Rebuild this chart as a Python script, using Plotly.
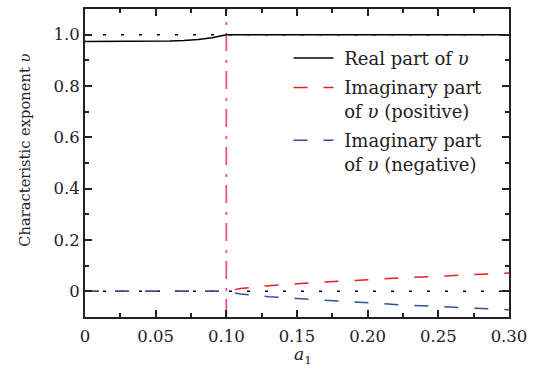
import plotly.graph_objects as go

# ---- data ----
x_real = [0.0, 0.02, 0.04, 0.05, 0.06, 0.07, 0.08, 0.09, 0.095, 0.1, 0.15, 0.2, 0.25, 0.3]
y_real = [0.973, 0.973, 0.973, 0.974, 0.975, 0.977, 0.981, 0.988, 0.993, 1.0, 1.0, 1.0, 1.0, 1.0]

x_imag = [0.0, 0.05, 0.1, 0.11, 0.13, 0.15, 0.175, 0.2, 0.225, 0.25, 0.275, 0.3]
y_imag_pos = [0.0, 0.0, 0.0, 0.011, 0.022, 0.030, 0.038, 0.046, 0.053, 0.059, 0.065, 0.071]
y_imag_neg = [0.0, 0.0, 0.0, -0.010, -0.021, -0.028, -0.037, -0.046, -0.053, -0.059, -0.066, -0.072]

x_ref = [0.0, 0.3]
y_ref_one = [1.0, 1.0]
y_ref_zero = [0.0, 0.0]

a_crit = 0.1
y_range = [-0.1, 1.1]

x_tickvals = [0, 0.05, 0.10, 0.15, 0.20, 0.25, 0.30]
x_ticktext = ["0", "0.05", "0.10", "0.15", "0.20", "0.25", "0.30"]
y_tickvals = [0, 0.2, 0.4, 0.6, 0.8, 1.0]
y_ticktext = ["0", "0.2", "0.4", "0.6", "0.8", "1.0"]

FONT = "DejaVu Serif"
AX = "#222222"
SP = "\u00a0"

fig = go.Figure()

# dotted reference lines
fig.add_trace(go.Scatter(x=x_ref, y=y_ref_one, mode="lines", showlegend=False,
                         line=dict(color="black", width=1.5, dash="3px,15px")))
fig.add_trace(go.Scatter(x=x_ref, y=y_ref_zero, mode="lines", showlegend=False,
                         line=dict(color="black", width=1.5, dash="3px,15px")))

# vertical dash-dot line at a1 = 0.1
fig.add_trace(go.Scatter(x=[a_crit, a_crit], y=y_range, mode="lines", showlegend=False,
                         line=dict(color="#e94b96", width=1.8, dash="18px,8px,3px,9px")))

fig.add_trace(go.Scatter(x=x_real, y=y_real, mode="lines", legendgroup="g1",
                         name=SP + "Real part of <i>υ</i>",
                         line=dict(color="black", width=1.5)))
fig.add_trace(go.Scatter(x=x_imag, y=y_imag_pos, mode="lines", legendgroup="g2",
                         name=SP + "Imaginary part<br>" + SP + "of <i>υ</i> (positive)",
                         line=dict(color="#ee1c25", width=1.5, dash="14px,16px")))
fig.add_trace(go.Scatter(x=x_imag, y=y_imag_neg, mode="lines", legendgroup="g3",
                         name=SP + "Imaginary part<br>" + SP + "of <i>υ</i> (negative)",
                         line=dict(color="#2f4f9f", width=1.5, dash="14px,16px")))

axis_common = dict(showline=True, linecolor=AX, linewidth=2, mirror="allticks",
                   ticks="inside", ticklen=7, tickwidth=1.5, tickcolor=AX,
                   showgrid=False, zeroline=False,
                   tickfont=dict(family=FONT, size=16.5, color="#222222"))

fig.update_xaxes(range=[0, 0.3], tickmode="array", tickvals=x_tickvals, ticktext=x_ticktext,
                 ticklabelstandoff=3,
                 minor=dict(ticks="inside", ticklen=4, tickwidth=1.5, tickcolor=AX, dtick=0.025,
                            tick0=0),
                 **axis_common)
fig.update_yaxes(range=y_range, tickmode="array", tickvals=y_tickvals, ticktext=y_ticktext,
                 minor=dict(ticks="inside", ticklen=4, tickwidth=1.5, tickcolor=AX, dtick=0.1,
                            tick0=0),
                 **axis_common)

fig.update_layout(
    width=541, height=372,
    margin=dict(l=85, r=32, t=7, b=55),
    plot_bgcolor="white", paper_bgcolor="white",
    font=dict(family=FONT, size=16, color="#222222"),
    legend=dict(x=0.48, y=0.90, xanchor="left", yanchor="top",
                bgcolor="rgba(0,0,0,0)", borderwidth=0, valign="top",
                itemwidth=40, tracegroupgap=3,
                font=dict(family=FONT, size=18, color="#222222")),
    annotations=[
        dict(text="Characteristic exponent <i>υ</i>", xref="paper", yref="paper",
             x=-0.1415, y=0.54, textangle=-90, showarrow=False,
             xanchor="center", yanchor="middle",
             font=dict(family=FONT, size=14.7, color="#222222")),
        dict(text="<i>a</i><sub>1</sub>", xref="paper", yref="paper",
             x=0.515, y=-0.125, showarrow=False, yanchor="middle",
             font=dict(family=FONT, size=17, color="#222222")),
    ],
)

fig.write_html("out.html")
